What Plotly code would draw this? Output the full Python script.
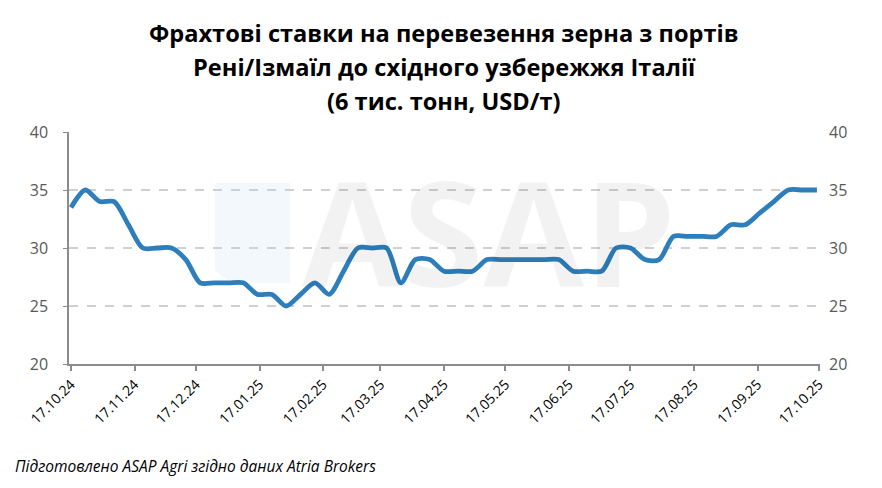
import plotly.graph_objects as go
import pandas as pd

start = "2024-10-17"
values = [33.5, 35, 34, 34, 32, 30, 30, 30, 29, 27, 27, 27, 27, 26, 26, 25,
          26, 27, 26, 28, 30, 30, 30, 27, 29, 29, 28, 28, 28, 29, 29, 29,
          29, 29, 29, 28, 28, 28, 30, 30, 29, 29, 31, 31, 31, 31, 32, 32,
          33, 34, 35, 35, 35]
dates = pd.date_range(start, periods=len(values), freq="7D")
tick_dates = [pd.Timestamp("2024-10-17") + pd.DateOffset(months=m) for m in range(13)]
tick_labels = [d.strftime("%d.%m.%y") for d in tick_dates]
y_ticks = [20, 25, 30, 35, 40]

title_lines = ["Фрахтові ставки на перевезення зерна з портів",
               "Рені/Ізмаїл до східного узбережжя Італії",
               "(6 тис. тонн, USD/т)"]
footer = "Підготовлено ASAP Agri згідно даних Atria Brokers"

FONT = "Open Sans, Liberation Sans, DejaVu Sans, sans-serif"

OFF = 8  # page body margin
W, H = 874, 480
# target plot area in window pixels: x 69..820, y 132..364
L, R, T, B = 69 - OFF, OFF + W - 820, 132 - OFF, OFF + H - 364
PW, PH = W - L - R, H - T - B


def py(pix):
    return (364 - pix) / PH


def px(pix):
    return (pix - 69) / PW


fig = go.Figure()
fig.add_trace(go.Scatter(x=dates, y=values, mode="lines",
                         line=dict(color="#2E7EBC", width=4.8, shape="spline", smoothing=0.8),
                         hoverinfo="skip", showlegend=False))
fig.add_trace(go.Scatter(x=[dates[0]], y=[values[0]], yaxis="y2", mode="lines",
                         line=dict(width=0), hoverinfo="skip", showlegend=False))

annotations = []
for i, t in enumerate(title_lines):
    annotations.append(dict(text=t, xref="paper", yref="paper", x=px(444), y=py(33 + 34 * i),
                            xanchor="center", yanchor="middle", showarrow=False,
                            font=dict(family=FONT, size=23.6, color="#000000", weight="bold")))
annotations.append(dict(text="ASAP", xref="paper", yref="paper", x=px(300), y=py(230),
                        showarrow=False, xanchor="left", yanchor="middle",
                        font=dict(family=FONT, size=146, color="rgba(0,0,0,0.05)", weight="bold")))
annotations.append(dict(text=footer, xref="paper", yref="paper", x=px(13), y=py(466),
                        xanchor="left", yanchor="middle", showarrow=False,
                        font=dict(family=FONT, size=15.5, color="#000000", style="italic")))

fig.update_layout(
    width=W, height=H,
    margin=dict(l=L, r=R, t=T, b=B, autoexpand=False),
    paper_bgcolor="white", plot_bgcolor="white",
    font=dict(family=FONT, color="#595959"),
    xaxis=dict(type="date", range=[pd.Timestamp("2024-10-16"), pd.Timestamp("2025-10-17 12:00")],
               tickvals=tick_dates, ticktext=tick_labels, tickangle=-45,
               tickfont=dict(size=14, color="#000000"), automargin=False,
               showline=True, linecolor="#8C8C8C", linewidth=1.5,
               ticks="outside", ticklen=5, tickcolor="#8C8C8C", tickwidth=1.5,
               showgrid=False, zeroline=False),
    yaxis=dict(range=[20, 40], tickvals=y_ticks, tickfont=dict(size=16, color="#595959"),
               showline=True, linecolor="#8C8C8C", linewidth=1.5, automargin=False,
               ticks="outside", ticklen=4, tickcolor="#8C8C8C", ticklabelstandoff=12,
               showgrid=True, gridcolor="#D0D0D0", griddash="dash", gridwidth=1.5,
               zeroline=False),
    yaxis2=dict(range=[20, 40], tickvals=y_ticks, overlaying="y", side="right",
                tickfont=dict(size=16, color="#595959"), showgrid=False, automargin=False,
                showline=False, zeroline=False, ticks="", ticklabelstandoff=8),
    shapes=[dict(type="path", xref="paper", yref="paper",
                 path=(f"M {px(215)} {py(183)} L {px(290)} {py(183)} L {px(290)} {py(283)} "
                       f"L {px(230)} {py(283)} L {px(215)} {py(270)} Z"),
                 fillcolor="#F3F8FC", line=dict(width=0), layer="below")],
    annotations=annotations,
)

fig.write_html("out.html")
